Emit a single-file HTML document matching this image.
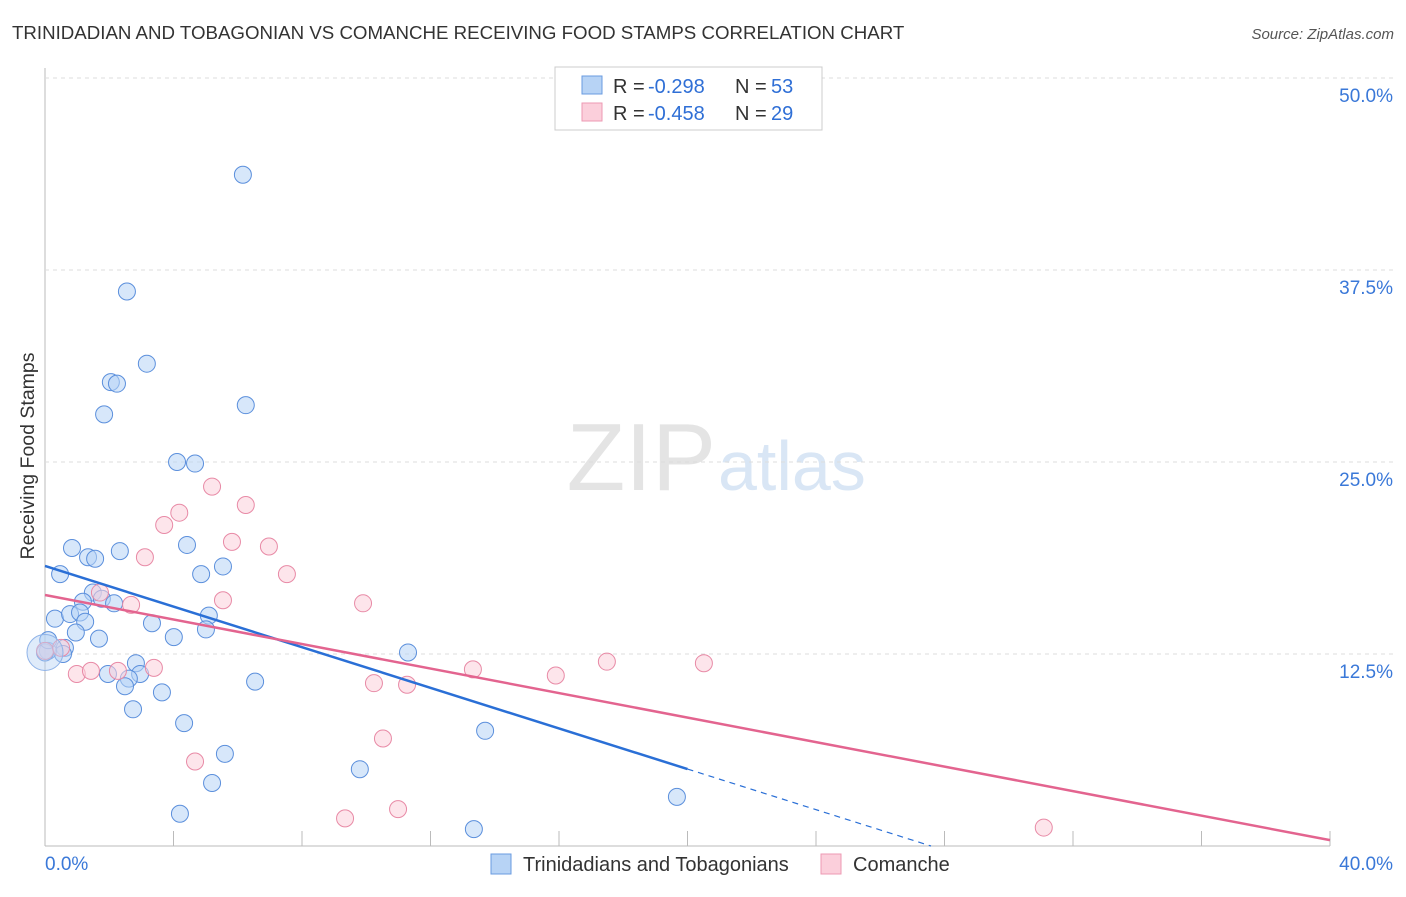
<!DOCTYPE html>
<html><head><meta charset="utf-8"><style>
body{margin:0;background:#fff;font-family:"Liberation Sans",sans-serif}
svg text{font-family:"Liberation Sans",sans-serif}
</style></head><body>
<svg id="c" width="1406" height="892">
<text x="12" y="39" font-size="18.7" fill="#333">TRINIDADIAN AND TOBAGONIAN VS COMANCHE RECEIVING FOOD STAMPS CORRELATION CHART</text>
<text x="1394" y="39" font-size="15" fill="#555" font-style="italic" text-anchor="end">Source: ZipAtlas.com</text>
<text x="716" y="490" font-size="96" fill="#e4e4e4" text-anchor="end" font-family="Liberation Serif">ZIP</text>
<text x="718" y="490" font-size="70" fill="#d9e6f5">atlas</text>
<text transform="translate(34,456) rotate(-90)" font-size="19.5" fill="#333" text-anchor="middle">Receiving Food Stamps</text>
<g id="grid"></g><g id="marks"></g>
<g>
<rect x="555" y="67" width="267" height="63" fill="#fff" stroke="#ccc"/>
<rect x="582" y="76" width="20" height="18" fill="#b7d3f5" stroke="#6a9be0"/>
<rect x="582" y="103" width="20" height="18" fill="#fbcfdb" stroke="#ec9ab3"/>
<text y="93" font-size="20" fill="#333"><tspan x="613">R =</tspan><tspan x="648" fill="#2f6fd6">-0.298</tspan><tspan x="735">N =</tspan><tspan x="771" fill="#2f6fd6">53</tspan></text>
<text y="120" font-size="20" fill="#333"><tspan x="613">R =</tspan><tspan x="648" fill="#2f6fd6">-0.458</tspan><tspan x="735">N =</tspan><tspan x="771" fill="#2f6fd6">29</tspan></text>
</g>
<g>
<rect x="491" y="854" width="20" height="20" fill="#b7d3f5" stroke="#6a9be0"/>
<text x="523" y="871" font-size="20" fill="#333">Trinidadians and Tobagonians</text>
<rect x="821" y="854" width="20" height="20" fill="#fbcfdb" stroke="#ec9ab3"/>
<text x="853" y="871" font-size="20" fill="#333">Comanche</text>
</g>
</svg>
<script>
const xTicks=[0,40];
const yTicks=[12.5,25,37.5,50];
const blueX=[6.16,2.55,3.17,2.05,2.24,1.84,6.25,4.11,4.67,0.84,4.42,2.33,1.34,1.56,0.47,4.86,5.54,1.49,1.77,2.15,1.18,0.31,0.78,1.09,1.25,3.33,5.10,5.01,0.96,1.68,4.01,0.62,0.56,0.09,0.0,11.3,2.83,2.96,1.96,2.61,2.49,3.64,6.54,2.74,4.33,13.7,5.60,5.20,9.80,4.20,13.35,19.67,0.1];
const blueY=[43.7,36.1,31.4,30.2,30.1,28.1,28.7,25.0,24.9,19.4,19.6,19.2,18.8,18.7,17.7,17.7,18.2,16.5,16.1,15.8,15.9,14.8,15.1,15.2,14.6,14.5,15.0,14.1,13.9,13.5,13.6,12.9,12.5,12.7,12.6,12.6,11.9,11.2,11.2,10.9,10.4,10.0,10.7,8.9,8.0,7.5,6.0,4.1,5.0,2.1,1.1,3.2,13.4];
const pinkX=[0.0,0.5,1.71,2.68,3.11,3.71,4.18,5.2,6.25,5.82,6.97,7.53,5.54,9.9,0.99,1.43,2.27,3.39,4.67,10.24,11.27,10.52,10.99,9.34,13.32,15.9,17.49,20.51,31.09];
const pinkY=[12.7,12.9,16.5,15.7,18.8,20.9,21.7,23.4,22.2,19.8,19.5,17.7,16.0,15.8,11.2,11.4,11.4,11.6,5.5,10.6,10.5,7.0,2.4,1.8,11.5,11.1,12.0,11.9,1.2];
const blueTrend=[18.23,-0.661];
const pinkTrend=[16.34,-0.399];
const X=v=>45+v/40*1285, Y=v=>846-v*15.36;
const ns='http://www.w3.org/2000/svg';
function mk(t,a,p){const e=document.createElementNS(ns,t);for(const k in a)e.setAttribute(k,a[k]);p.appendChild(e);return e;}
const g=document.getElementById('grid'),m=document.getElementById('marks');
let ax=mk('line',{x1:45,y1:68,x2:45,y2:846,stroke:'#bbb'},g);


ax=mk('line',{x1:45,y1:846,x2:1330,y2:846,stroke:'#bbb'},g);


for(let i=0;i<=10;i++){mk('line',{x1:X(i*4),y1:831,x2:X(i*4),y2:846,stroke:'#bbb'},g);}
yTicks.forEach(v=>{const l=mk('line',{x1:45,y1:Y(v),x2:1394,y2:Y(v),stroke:'#ddd','stroke-dasharray':'4,4'},g);


const t=mk('text',{x:1393,y:Y(v)+24,'font-size':19,fill:'#3a78d8','text-anchor':'end'},g);t.textContent=v.toFixed(1)+'%';

});
xTicks.forEach((v,i)=>{const t=mk('text',{x:i?1393:45,y:870,'font-size':19,fill:'#3a78d8','text-anchor':i?'end':'start'},g);t.textContent=v.toFixed(1)+'%';

});
function pts(xs,ys,f,s,nm){xs.forEach((x,i)=>{const c=mk('circle',{cx:X(x),cy:Y(ys[i]),r:8.5,fill:f,'fill-opacity':0.55,stroke:s,'stroke-width':1},m);

});}
pts(blueX,blueY,'#b7d3f5','#5b8fdc','trinidadian-point');
pts(pinkX,pinkY,'#fbcfdb','#e88aa6','comanche-point');
const big=mk('circle',{cx:X(0),cy:Y(12.6),r:18,fill:'#b7d3f5','fill-opacity':0.45,stroke:'#8fb3e8'},m);


let l=mk('line',{x1:X(0),y1:Y(blueTrend[0]),x2:X(20),y2:Y(blueTrend[0]+20*blueTrend[1]),stroke:'#2a6fd6','stroke-width':2.5},m);


const xe=-blueTrend[0]/blueTrend[1];
l=mk('line',{x1:X(20),y1:Y(blueTrend[0]+20*blueTrend[1]),x2:X(xe),y2:Y(0),stroke:'#2a6fd6','stroke-width':1.2,'stroke-dasharray':'6,5'},m);


l=mk('line',{x1:X(0),y1:Y(pinkTrend[0]),x2:X(40),y2:Y(pinkTrend[0]+40*pinkTrend[1]),stroke:'#e3648f','stroke-width':2.5},m);


</script>
</body></html>
